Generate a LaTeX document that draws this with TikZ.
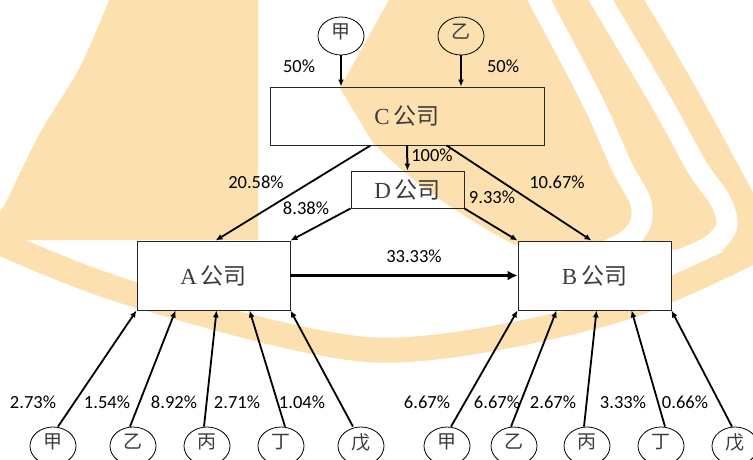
\documentclass[tikz,border=0pt]{standalone}
\usepackage{fontspec}
\newfontfamily\cjk{Noto Sans CJK SC}
\newfontfamily\pct{Carlito}
\newfontfamily\lat{Liberation Serif}
\usetikzlibrary{shapes.geometric,arrows.meta}
\definecolor{wm}{RGB}{253,224,176}
\definecolor{txt}{RGB}{60,60,60}
\begin{document}
\begin{tikzpicture}[x=1pt,y=-1pt,
  box/.style={draw=black!85, line width=0.9pt, rectangle, inner sep=0pt, text=txt,
    font=\fontsize{23}{26}\selectfont},
  wbox/.style={box, fill=white},
  lab/.style={font=\cjk\fontsize{19}{21}\selectfont, text=txt, yshift=4pt, inner sep=0pt},
  ell/.style={draw, ellipse, line width=0.8pt, minimum width=46pt, minimum height=38pt,
    inner sep=0pt, label={[lab]center:#1}},
  pl/.style={font=\pct\fontsize{18.5}{20}\selectfont, inner sep=0pt},
  arr/.style={line width=1.8pt, -{Latex[length=7pt,width=6pt]}},
  varr/.style={line width=2pt, -{Latex[length=7pt,width=6pt]}},
  barr/.style={line width=3pt, -{Latex[length=10pt,width=10pt]}}]
\clip (0,0) rectangle (753,459);
\useasboundingbox (0,0) rectangle (753,459);
\fill[white] (0,0) rectangle (753,459);
% watermark
\fill[wm] plot[smooth] coordinates {(110,-2) (80,67) (40,133) (7,200) (-2,215)} -- (-2,240) -- (258,240) -- (258,-2) -- cycle;
\fill[wm] (390,-2) -- (340,88) -- (373,143) .. controls (400,170) and (440,205) .. (515,245)
  -- (760,252) -- (760,205) .. controls (740,170) and (700,90) .. (643,-2) -- cycle;
\draw[white, line width=21pt] plot[smooth] coordinates {(535,-8) (592,100) (622,167) (640,200) (641,222) (628,240) (600,254)};
\draw[white, line width=21pt] plot[smooth] coordinates {(596,-8) (660,100) (697,167) (720,200) (727,225) (712,245) (680,260)};
\draw[wm, line width=25pt] plot[smooth] coordinates {(-15,236) (130,293) (376,350) (610,312) (775,240)};
% boxes
\node[box, minimum width=274pt, minimum height=58pt] (C) at (407,116) {{\lat C}\,{\cjk 公司}};
\node[box, minimum width=113pt, minimum height=37pt] (D) at (407.5,189.5) {{\lat D}\,{\cjk 公司}};
\node[wbox, minimum width=153pt, minimum height=69pt] (A) at (213.5,275.5) {{\lat A}\,{\cjk 公司}};
\node[wbox, minimum width=153pt, minimum height=69pt] (B) at (594.5,275.5) {{\lat B}\,{\cjk 公司}};
% top owners
\node[ell=甲] (t1) at (341,36) {};
\node[ell=乙] (t2) at (461,36) {};
% bottom owners
\node[ell=甲] (l1) at (53,446) {};
\node[ell=乙] (l2) at (133,446) {};
\node[ell=丙] (l3) at (207,446) {};
\node[ell=丁] (l4) at (281,446) {};
\node[ell=戊] (l5) at (361,446) {};
\node[ell=甲] (r1) at (447,446) {};
\node[ell=乙] (r2) at (514,446) {};
\node[ell=丙] (r3) at (587,446) {};
\node[ell=丁] (r4) at (661,446) {};
\node[ell=戊] (r5) at (735,446) {};
% connectors
\draw[varr] (t1.south) -- (t1.south |- C.north);
\draw[varr] (t2.south) -- (t2.south |- C.north);
\draw[varr] (C.south) -- (D.north);
\draw[arr] ([xshift=101pt]C.south west) -- ([xshift=79pt]A.north west);
\draw[arr] ([xshift=177pt]C.south west) -- ([xshift=74pt]B.north west);
\draw[arr] (D.south west) -- (A.north east);
\draw[arr] (D.south east) -- (B.north west);
\draw[barr] (A.east) -- (B.west);
\draw[arr] ([xshift=5pt]l1.north) -- (A.south west);
\draw[arr] ([xshift=-3pt]l2.north) -- ([xshift=39pt]A.south west);
\draw[arr] ([xshift=-3pt]l3.north) -- ([xshift=80pt]A.south west);
\draw[arr] ([xshift=4pt]l4.north) -- ([xshift=113pt]A.south west);
\draw[arr] ([xshift=-8pt]l5.north) -- (A.south east);
\draw[arr] ([xshift=4pt]r1.north) -- (B.south west);
\draw[arr] ([xshift=-3pt]r2.north) -- ([xshift=39pt]B.south west);
\draw[arr] ([xshift=-3pt]r3.north) -- ([xshift=79pt]B.south west);
\draw[arr] ([xshift=4pt]r4.north) -- ([xshift=114pt]B.south west);
\draw[arr] ([xshift=-3pt]r5.north) -- (B.south east);
% labels
\node[pl] (p1) at (299,66) {50\%};
\node[pl] (p2) at (503,66) {50\%};
\node[pl] (p3) at (432,155) {100\%};
\node[pl] (p4) at (256,182) {20.58\%};
\node[pl] (p5) at (306,208) {8.38\%};
\node[pl] (p6) at (492,197) {9.33\%};
\node[pl] (p7) at (557,182) {10.67\%};
\node[pl] (p8) at (414,256) {33.33\%};
\node[pl] (q1) at (33,402) {2.73\%};
\node[pl] (q2) at (107,402) {1.54\%};
\node[pl] (q3) at (174,402) {8.92\%};
\node[pl] (q4) at (237,402) {2.71\%};
\node[pl] (q5) at (302,402) {1.04\%};
\node[pl] (s1) at (427,402) {6.67\%};
\node[pl] (s2) at (497,402) {6.67\%};
\node[pl] (s3) at (553,402) {2.67\%};
\node[pl] (s4) at (623,402) {3.33\%};
\node[pl] (s5) at (685,402) {0.66\%};
\end{tikzpicture}
\end{document}
